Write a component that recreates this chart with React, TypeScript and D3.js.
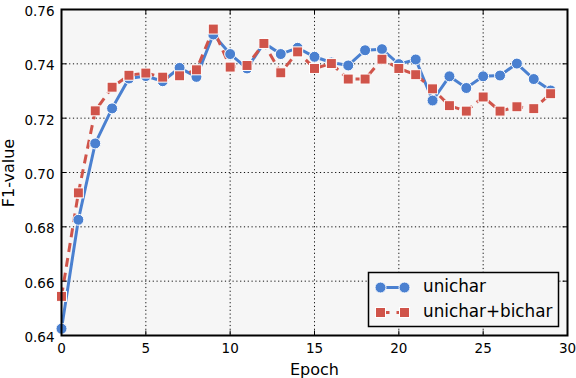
import * as d3 from "d3";

const epochs = d3.range(30);
const unichar = [
  0.6425, 0.6826, 0.7107, 0.7236, 0.7346, 0.7355, 0.7336, 0.7385, 0.7352, 0.7508,
  0.7436, 0.7383, 0.7477, 0.7436, 0.7459, 0.7426, 0.7405, 0.7394, 0.745, 0.7454,
  0.7399, 0.7416, 0.7265, 0.7354, 0.7311, 0.7354, 0.7357, 0.7401, 0.7344, 0.7302,
];
const unicharBichar = [
  0.6544, 0.6925, 0.7227, 0.7314, 0.7358, 0.7366, 0.7351, 0.7356, 0.7378, 0.7528,
  0.7388, 0.7394, 0.7475, 0.7367, 0.7444, 0.7383, 0.7401, 0.7344, 0.7344, 0.7417,
  0.7383, 0.736, 0.7308, 0.7246, 0.7226, 0.7278, 0.7226, 0.7242, 0.7235, 0.729,
];
const xTicks = [0, 5, 10, 15, 20, 25, 30];
const yTicks = [0.64, 0.66, 0.68, 0.7, 0.72, 0.74, 0.76];

const W = 576;
const H = 378;
const M = { left: 61.5, right: 567.5, top: 9.5, bottom: 335.5 };
const BLUE = "#4a80d0";
const RED = "#d0544a";
const FONT = "DejaVu Sans, sans-serif";

export default function App() {
  const x = d3.scaleLinear().domain([0, 30]).range([M.left, M.right]);
  const y = d3.scaleLinear().domain([0.64, 0.76]).range([M.bottom, M.top]);

  const line = (vals: number[]) =>
    d3.line<number>().x((_, i) => x(epochs[i])).y((v) => y(v))(vals) ?? "";

  return (
    <div style={{ position: "absolute", left: 0, top: 0 }}>
      <svg width={W} height={H} style={{ display: "block" }} fontFamily={FONT}>
        <rect width={W} height={H} fill="#ffffff" />
        <defs>
          <clipPath id="plot">
            <rect x={M.left} y={M.top} width={M.right - M.left} height={M.bottom - M.top} />
          </clipPath>
        </defs>
        <rect x={M.left} y={M.top} width={M.right - M.left} height={M.bottom - M.top} fill="#f6f6f6" />

        {/* grid */}
        {xTicks.slice(1, -1).map((t) => (
          <line key={"gx" + t} x1={x(t)} x2={x(t)} y1={M.top} y2={M.bottom}
            stroke="#111" strokeWidth={1} strokeDasharray="1.2,2.6" />
        ))}
        {yTicks.slice(1, -1).map((t) => (
          <line key={"gy" + t} x1={M.left} x2={M.right} y1={y(t)} y2={y(t)}
            stroke="#111" strokeWidth={1} strokeDasharray="1.2,2.6" />
        ))}

        <g clipPath="url(#plot)">
          <path d={line(unichar)} fill="none" stroke={BLUE} strokeWidth={3} />
          <path d={line(unicharBichar)} fill="none" stroke={RED} strokeWidth={3} strokeDasharray="9,6" />
        </g>
        {unichar.map((v, i) => (
          <circle key={"b" + i} cx={x(epochs[i])} cy={y(v)} r={5.5} fill={BLUE} stroke="#fff" strokeWidth={1} />
        ))}
        {unicharBichar.map((v, i) => (
          <rect key={"r" + i} x={x(epochs[i]) - 5} y={y(v) - 5} width={10} height={10}
            fill={RED} stroke="#fff" strokeWidth={1} />
        ))}

        {/* ticks (inward) */}
        {xTicks.map((t) => (
          <g key={"tx" + t}>
            <line x1={x(t)} x2={x(t)} y1={M.bottom} y2={M.bottom - 5} stroke="#000" />
            <line x1={x(t)} x2={x(t)} y1={M.top} y2={M.top + 5} stroke="#000" />
            <text x={x(t)} y={M.bottom + 17.5} textAnchor="middle" fontSize={13.5} fill="#000">{t}</text>
          </g>
        ))}
        {yTicks.map((t) => (
          <g key={"ty" + t}>
            <line x1={M.left} x2={M.left + 5} y1={y(t)} y2={y(t)} stroke="#000" />
            <line x1={M.right} x2={M.right - 5} y1={y(t)} y2={y(t)} stroke="#000" />
            <text x={M.left - 7} y={y(t) + 6.5} textAnchor="end" fontSize={13.5} fill="#000">{t.toFixed(2)}</text>
          </g>
        ))}

        <rect x={M.left} y={M.top} width={M.right - M.left} height={M.bottom - M.top}
          fill="none" stroke="#000" strokeWidth={2} />

        <text x={(M.left + M.right) / 2} y={375} textAnchor="middle" fontSize={16} fill="#000">Epoch</text>
        <text transform={`translate(14, 173) rotate(-90)`} textAnchor="middle"
          fontSize={16} fill="#000">F1-value</text>

        {/* legend */}
        <g transform="translate(368.5, 272.5)">
          <rect width={190} height={54} fill="#f6f6f6" stroke="#000" strokeWidth={1.5} />
          <line x1={12} x2={36} y1={15} y2={15} stroke={BLUE} strokeWidth={3} />
          <circle cx={12} cy={15} r={5.5} fill={BLUE} stroke="#fff" strokeWidth={1} />
          <circle cx={36} cy={15} r={5.5} fill={BLUE} stroke="#fff" strokeWidth={1} />
          <text x={54.5} y={19.5} fontSize={16.8} fill="#000">unichar</text>
          <line x1={12} x2={36} y1={40} y2={40} stroke={RED} strokeWidth={3} strokeDasharray="9,7" />
          <rect x={7} y={35} width={10} height={10} fill={RED} stroke="#fff" strokeWidth={1} />
          <rect x={31} y={35} width={10} height={10} fill={RED} stroke="#fff" strokeWidth={1} />
          <text x={54.5} y={44.5} fontSize={16.8} fill="#000">unichar+bichar</text>
        </g>
      </svg>
    </div>
  );
}
